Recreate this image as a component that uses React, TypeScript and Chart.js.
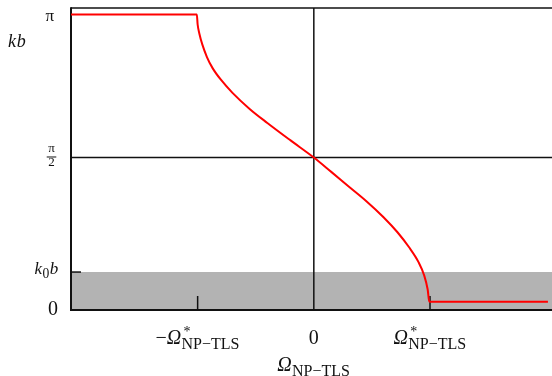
import React, { useEffect, useRef } from "react";
import { Chart, registerables } from "chart.js";

Chart.register(...registerables);

// ---- data ----
const X_MIN = -2.09;
const X_MAX = 2.05;
const Y_MIN = 0;
const Y_MAX = 3.111;
const OMEGA_STAR = 1;
const K0B = 0.391;
const HALF_PI = 1.571;
const PI_LEVEL = 3.044;

const curveX = [
  -2.09, -1.007, -1.0, -0.985, -0.96, -0.92, -0.87, -0.8, -0.7, -0.55, -0.4, -0.2, 0,
  0.15, 0.3, 0.45, 0.6, 0.72, 0.82, 0.9, 0.95, 0.98, 0.994, 1.0, 2.015,
];
const curveY = [
  3.044, 3.044, 2.941, 2.846, 2.736, 2.606, 2.489, 2.372, 2.237, 2.069, 1.927, 1.747, 1.571,
  1.423, 1.273, 1.124, 0.956, 0.801, 0.646, 0.496, 0.356, 0.211, 0.085, 0.085, 0.085,
];

const bandX = [X_MIN, X_MAX];
const bandY = [K0B, K0B];

const xTickValues = [-OMEGA_STAR, 0, OMEGA_STAR];
const xTickLabels = ["−Ω^{*}_{NP−TLS}", "0", "Ω^{*}_{NP−TLS}"];
const xMarkValues = [-OMEGA_STAR, OMEGA_STAR];
const yTickValues = [0, K0B, HALF_PI, PI_LEVEL];
const yTickLabels = ["0", "k_{0}b", "π/2", "π"];
const xAxisTitle = "Ω_{NP−TLS}";
const yAxisTitle = "kb";

// ---- text helpers ----
const FAM = '"Liberation Serif", "DejaVu Serif", serif';

type Tok = { t: string; k: "n" | "sub" | "sup" };

function parse(s: string): Tok[] {
  const out: Tok[] = [];
  let i = 0;
  while (i < s.length) {
    const c = s[i];
    if ((c === "_" || c === "^") && s[i + 1] === "{") {
      const j = s.indexOf("}", i);
      out.push({ t: s.slice(i + 2, j), k: c === "_" ? "sub" : "sup" });
      i = j + 1;
    } else {
      out.push({ t: c, k: "n" });
      i++;
    }
  }
  return out;
}

const isItalic = (ch: string) => /[a-z]/.test(ch) || ch === "Ω";

function layoutRich(ctx: CanvasRenderingContext2D, s: string, size: number) {
  const toks = parse(s);
  const items: { t: string; x: number; dy: number; font: string }[] = [];
  let x = 0;
  let i = 0;
  while (i < toks.length) {
    const tk = toks[i];
    if (tk.k === "n") {
      const it = isItalic(tk.t);
      const font = `${it ? "italic " : ""}${size}px ${FAM}`;
      ctx.font = font;
      const w = ctx.measureText(tk.t).width;
      items.push({ t: tk.t, x, dy: 0, font });
      x += w + (it ? 0.8 : 0);
      i++;
    } else {
      let maxW = 0;
      while (i < toks.length && toks[i].k !== "n") {
        const s2 = toks[i];
        const sz = s2.k === "sub" ? size * 0.8 : size * 0.7;
        const font = `${sz}px ${FAM}`;
        ctx.font = font;
        const w = ctx.measureText(s2.t).width;
        const off = s2.k === "sup" ? 1.5 : -0.5;
        items.push({
          t: s2.t,
          x: x + off,
          dy: s2.k === "sub" ? size * 0.25 : -size * 0.38,
          font,
        });
        maxW = Math.max(maxW, w + off);
        i++;
      }
      x += maxW + 0.5;
    }
  }
  return { items, width: x };
}

function drawRich(
  ctx: CanvasRenderingContext2D,
  s: string,
  x: number,
  baseline: number,
  size: number,
  align: "left" | "center" | "right"
) {
  const { items, width } = layoutRich(ctx, s, size);
  const x0 = align === "left" ? x : align === "center" ? x - width / 2 : x - width;
  ctx.textAlign = "left";
  ctx.textBaseline = "alphabetic";
  for (const it of items) {
    ctx.font = it.font;
    ctx.fillText(it.t, x0 + it.x, baseline + it.dy);
  }
}

function drawFraction(ctx: CanvasRenderingContext2D, s: string, xc: number, yc: number, size: number) {
  const [num, den] = s.split("/");
  ctx.font = `${size}px ${FAM}`;
  ctx.textAlign = "center";
  ctx.textBaseline = "alphabetic";
  const w = Math.max(ctx.measureText(num).width, ctx.measureText(den).width) + 3;
  ctx.fillText(num, xc, yc - 5.5);
  ctx.fillText(den, xc, yc + 9);
  ctx.beginPath();
  ctx.lineWidth = 1;
  ctx.moveTo(xc - w / 2, yc - 0.5);
  ctx.lineTo(xc + w / 2, yc - 0.5);
  ctx.stroke();
}

const decorPlugin = {
  id: "decor",
  afterDatasetDraw(chart: any, args: any) {
    if (args.index !== 1) return;
    const { ctx, chartArea: a, scales } = chart;
    const xs = scales.x;
    const ys = scales.y;
    const ln = (x1: number, y1: number, x2: number, y2: number, w: number) => {
      ctx.beginPath();
      ctx.lineWidth = w;
      ctx.moveTo(x1, y1);
      ctx.lineTo(x2, y2);
      ctx.stroke();
    };
    ctx.save();
    ctx.strokeStyle = "#111";
    // frame
    ln(a.left, a.top, a.right, a.top, 1.5);
    ln(a.left, a.top - 0.75, a.left, a.bottom + 1, 2);
    ln(a.left - 1, a.bottom, a.right, a.bottom, 2);
    // zero lines
    const x0 = xs.getPixelForValue(0);
    ln(x0, a.top, x0, a.bottom, 1.5);
    const yh = ys.getPixelForValue(HALF_PI);
    ln(a.left, yh, a.right, yh, 1.5);
    // k0b tick
    const yk = ys.getPixelForValue(K0B);
    ln(a.left, yk, a.left + 10, yk, 1.5);
    // ±Ω* ticks
    for (const v of xMarkValues) {
      const px = xs.getPixelForValue(v);
      ln(px, a.bottom, px, a.bottom - 14, 1.5);
    }
    ctx.restore();
  },
  afterDraw(chart: any) {
    const { ctx, chartArea: a, scales } = chart;
    const xs = scales.x;
    const ys = scales.y;
    ctx.save();
    ctx.fillStyle = "#111";
    ctx.strokeStyle = "#111";
    // y tick labels
    yTickValues.forEach((v, i) => {
      const lab = yTickLabels[i];
      const py = ys.getPixelForValue(v);
      if (lab.includes("/")) {
        drawFraction(ctx, lab, 51.5, py, 13);
      } else if (lab === "π") {
        drawRich(ctx, lab, 54, py + 6.5, 17, "right");
      } else if (lab === "0") {
        drawRich(ctx, lab, 58, py + 5, 20, "right");
      } else {
        drawRich(ctx, lab, 59, py + 1.5, 17, "right");
      }
    });
    // y axis title
    drawRich(ctx, yAxisTitle, 8, 47, 18, "left");
    // x tick labels
    xTickValues.forEach((v, i) => {
      const px = xs.getPixelForValue(v);
      const lab = xTickLabels[i];
      drawRich(ctx, lab, px, a.bottom + 34, 20, "center");
    });
    // x axis title
    drawRich(ctx, xAxisTitle, xs.getPixelForValue(0), a.bottom + 61, 20, "center");
    ctx.restore();
  },
};

export default function App() {
  const ref = useRef<HTMLCanvasElement | null>(null);
  useEffect(() => {
    if (!ref.current) return;
    const chart = new Chart(ref.current, {
      type: "line",
      data: {
        datasets: [
          {
            label: "kb",
            data: curveX.map((x, i) => ({ x, y: curveY[i] })),
            borderColor: "#ff0000",
            borderWidth: 2,
            pointRadius: 0,
            cubicInterpolationMode: "monotone",
            fill: false,
          },
          {
            label: "k0b band",
            data: bandX.map((x, i) => ({ x, y: bandY[i] })),
            borderColor: "rgba(0,0,0,0)",
            borderWidth: 0,
            backgroundColor: "#b3b3b3",
            pointRadius: 0,
            fill: "origin",
          },
        ],
      },
      options: {
        animation: false,
        responsive: false,
        layout: { padding: { left: 71, right: 0, top: 8, bottom: 66 } },
        plugins: { legend: { display: false }, tooltip: { enabled: false } },
        scales: {
          x: { type: "linear", min: X_MIN, max: X_MAX, display: false },
          y: { type: "linear", min: Y_MIN, max: Y_MAX, display: false },
        },
      },
      plugins: [decorPlugin],
    });
    return () => chart.destroy();
  }, []);
  return (
    <div style={{ position: "fixed", left: 0, top: 0, width: 552, height: 376, background: "#fff" }}>
      <canvas ref={ref} width={552} height={376} style={{ display: "block" }} />
    </div>
  );
}
